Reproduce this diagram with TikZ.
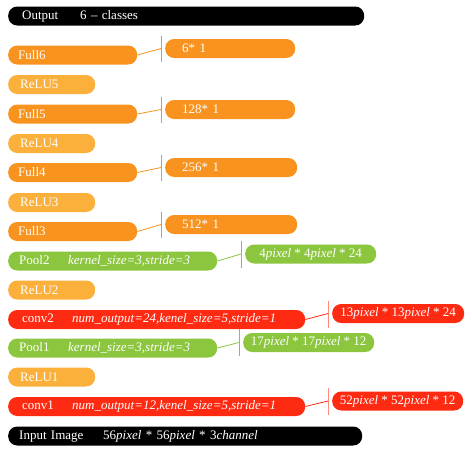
\documentclass[tikz,border=0pt]{standalone}
\usepackage{fontspec}
\setmainfont{Liberation Serif}
\usepackage{tikz}
\definecolor{cfull}{HTML}{F7931E}
\definecolor{crelu}{HTML}{FBB03B}
\definecolor{cpool}{HTML}{8CC63F}
\definecolor{cconv}{HTML}{FF2A12}
\begin{document}
\begin{tikzpicture}[x=1pt,y=-1pt,
    bar/.style={anchor=west,rounded corners=9pt,minimum height=19pt,inner ysep=2pt,text=white,align=left,font=\fontsize{13}{15}\selectfont},
    blk/.style={bar,fill=black,inner xsep=14pt,text width=328pt},
    full/.style={bar,fill=cfull,inner xsep=10pt,text width=109pt},
    relu/.style={bar,fill=crelu,inner xsep=12pt,text width=63pt},
    pool/.style={bar,fill=cpool,inner xsep=11pt,text width=187pt},
    conv/.style={bar,fill=cconv,inner xsep=14pt,text width=269pt},
    lab/.style={anchor=west,rounded corners=9pt,minimum height=19pt,inner ysep=2pt,text=white,font=\fontsize{13}{15}\selectfont},
    flab/.style={lab,fill=cfull,inner xsep=17pt,align=left},
    link/.style={line width=0.8pt},
  ]
      \useasboundingbox (0,0) rectangle (472,450);
      \node[blk] (out) at (8,16) {\makebox[58pt][l]{Output}6 -- classes};
      \node[full] (f6) at (8,55) {Full6};
      \node[relu] (r5) at (8,84.5) {ReLU5};
      \node[full] (f5) at (8,114) {Full5};
      \node[relu] (r4) at (8,143.5) {ReLU4};
      \node[full] (f4) at (8,172.5) {Full4};
      \node[relu] (r3) at (8,202.5) {ReLU3};
      \node[full] (f3) at (8,231.5) {Full3};
      \node[pool] (p2) at (8,261) {\makebox[49pt][l]{Pool2}\textit{kernel\_size=3,stride=3}};
      \node[relu] (r2) at (8,290) {ReLU2};
      \node[conv] (c2) at (8,319.5) {\makebox[50pt][l]{conv2}\textit{num\_output=24,kenel\_size=5,stride=1}};
      \node[pool] (p1) at (8,348) {\makebox[49pt][l]{Pool1}\textit{kernel\_size=3,stride=3}};
      \node[relu] (r1) at (8,377) {ReLU1};
      \node[conv] (c1) at (8,406.5) {\makebox[50pt][l]{conv1}\textit{num\_output=12,kenel\_size=5,stride=1}};
      \node[blk,inner xsep=11pt,text width=332pt] (in) at (8,436) {\makebox[84pt][l]{Input Image}56\textit{pixel} * 56\textit{pixel} * 3\textit{channel}};

      \node[flab,text width=96pt] (l6) at (165,48.5) {6* 1};
      \node[flab,text width=96pt] (l5) at (165,109.5) {128* 1};
      \node[flab,text width=98pt] (l4) at (165,167.5) {256* 1};
      \node[flab,text width=98pt] (l3) at (165,224.5) {512* 1};
      \node[lab,fill=cpool,minimum width=131pt] (lp2) at (245,254) {4\textit{pixel} * 4\textit{pixel} * 24};
      \node[lab,fill=cconv,minimum width=132pt] (lc2) at (332,313.5) {13\textit{pixel} * 13\textit{pixel} * 24};
      \node[lab,fill=cpool,minimum width=131pt] (lp1) at (243,342.5) {17\textit{pixel} * 17\textit{pixel} * 12};
      \node[lab,fill=cconv,minimum width=131pt] (lc1) at (332,401) {52\textit{pixel} * 52\textit{pixel} * 12};

      \draw[cfull] ([shift={(-4pt,3pt)}]l6.north west) -- ([shift={(-4pt,-4pt)}]l6.south west);
      \draw[cfull] ([shift={(-4pt,3pt)}]l5.north west) -- ([shift={(-4pt,-4pt)}]l5.south west);
      \draw[cfull] ([shift={(-4pt,3pt)}]l4.north west) -- ([shift={(-4pt,-4pt)}]l4.south west);
      \draw[cfull] ([shift={(-4pt,3pt)}]l3.north west) -- ([shift={(-4pt,-4pt)}]l3.south west);
      \draw[cpool] ([shift={(-4pt,3pt)}]lp2.north west) -- ([shift={(-4pt,-4pt)}]lp2.south west);
      \draw[cconv!55] ([shift={(-4pt,3pt)}]lc2.north west) -- ([shift={(-4pt,-5pt)}]lc2.south west);
      \draw[cpool] ([shift={(-4pt,4pt)}]lp1.north west) -- ([shift={(-4pt,-4pt)}]lp1.south west);
      \draw[cconv!55] ([shift={(-4pt,3pt)}]lc1.north west) -- ([shift={(-4pt,-4pt)}]lc1.south west);

      \draw[link,cfull] (f6.east) -- ([xshift=-4pt]l6.west);
      \draw[link,cfull] (f5.east) -- ([xshift=-4pt]l5.west);
      \draw[link,cfull] (f4.east) -- ([xshift=-4pt]l4.west);
      \draw[link,cfull] (f3.east) -- ([xshift=-4pt]l3.west);
      \draw[link,cpool] (p2.east) -- ([xshift=-4pt]lp2.west);
      \draw[link,cconv] (c2.east) -- ([xshift=-4pt]lc2.west);
      \draw[link,cpool] (p1.east) -- ([xshift=-4pt]lp1.west);
      \draw[link,cconv] (c1.east) -- ([xshift=-4pt]lc1.west);
\end{tikzpicture}
\end{document}
